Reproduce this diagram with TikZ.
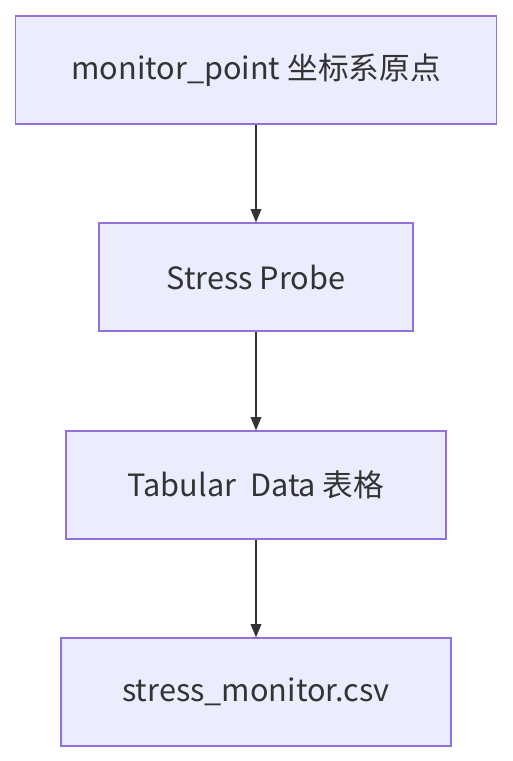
\documentclass[tikz,border=0pt]{standalone}
\usepackage{fontspec}
\setmainfont{Noto Sans CJK SC}
\usetikzlibrary{arrows.meta}

\definecolor{boxfill}{RGB}{236,236,255}
\definecolor{boxline}{RGB}{147,112,219}
\definecolor{inkgray}{RGB}{51,51,51}

\tikzset{
  flowbox/.style={draw=boxline, fill=boxfill, line width=1pt, minimum height=81pt,
    text=inkgray, font=\fontsize{23}{27}\selectfont, inner sep=0pt},
  flowarrow/.style={draw=inkgray, line width=1.1pt, -{Triangle[length=10pt,width=8pt]}}
}

\begin{document}
\begin{tikzpicture}[x=0.75pt,y=0.75pt,yscale=-1,xscale=1]
%set diagram size to the full 512 x 761 frame
\useasboundingbox (0,0) rectangle (512,761);

% Boxes
\node [flowbox, minimum width=360.75pt] (origin) at (256,70) {monitor\_point 坐标系原点};
\node [flowbox, minimum width=235.5pt] (probe) at (256,277) {Stress Probe};
\node [flowbox, minimum width=285pt] (table) at (256,485) {Tabular\ \ Data 表格};
\node [flowbox, minimum width=292.5pt] (csv) at (256,692) {stress\_monitor.csv};

% Arrows
\draw [flowarrow] (origin.south) -- (probe.north);
\draw [flowarrow] (probe.south) -- (table.north);
\draw [flowarrow] (table.south) -- (csv.north);

\end{tikzpicture}
\end{document}
